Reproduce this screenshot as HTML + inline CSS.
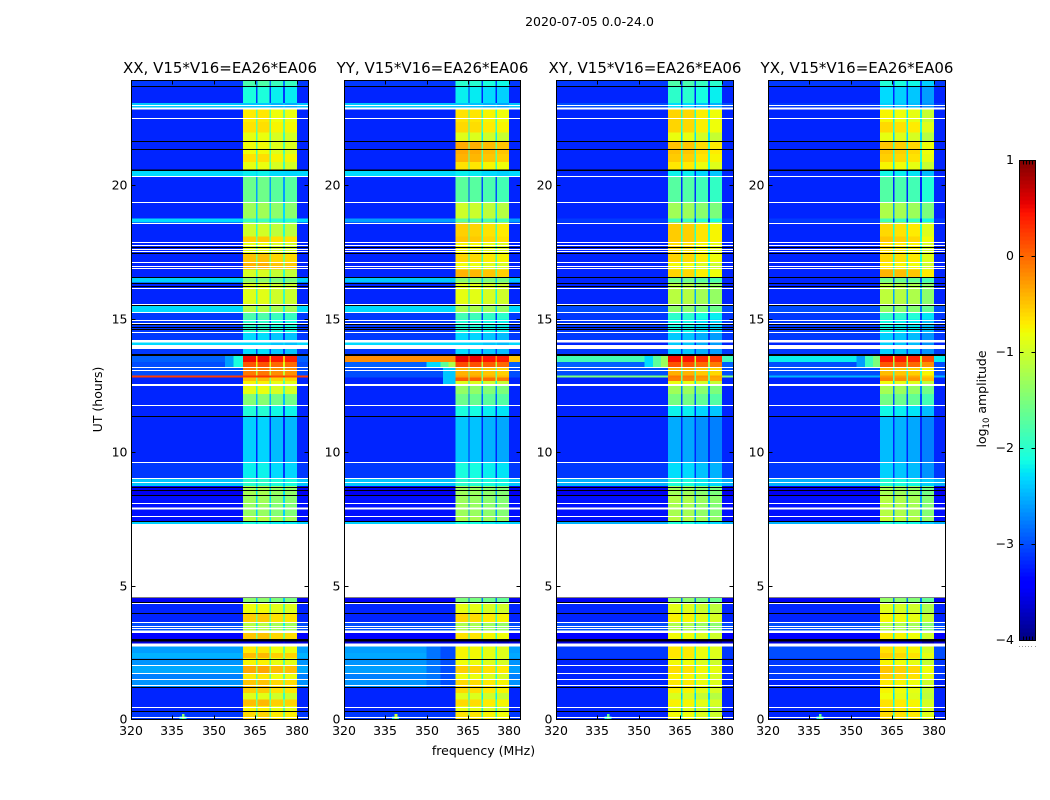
<!DOCTYPE html>
<html>
<head>
<meta charset="utf-8">
<title>2020-07-05 0.0-24.0</title>
<style>
html,body{margin:0;padding:0;background:#fff;}
svg{display:block;}
text{font-family:"DejaVu Sans","Liberation Sans",sans-serif;fill:#000;}
</style>
</head>
<body>
<svg id="figure" xmlns="http://www.w3.org/2000/svg" width="1050" height="800" viewBox="0 0 1050 800">
  <text x="589.5" y="26" font-size="12.5" text-anchor="middle">2020-07-05 0.0-24.0</text>
  <text x="483.5" y="755" font-size="12.5" text-anchor="middle">frequency (MHz)</text>
  <text x="102" y="399.5" font-size="12.5" text-anchor="middle" transform="rotate(-90 102 399.5)">UT (hours)</text>
  <text x="986" y="399" font-size="12.5" text-anchor="middle" transform="rotate(-90 986 399)">log<tspan font-size="8.5" dy="3">10</tspan><tspan dy="-3"> amplitude</tspan></text>
</svg>
<script>
// ---------- data (hours, MHz, log10 amplitude) ----------
const panelNames = ['XX', 'YY', 'XY', 'YX'];
const panelTitles = ['XX, V15*V16=EA26*EA06', 'YY, V15*V16=EA26*EA06', 'XY, V15*V16=EA26*EA06', 'YX, V15*V16=EA26*EA06'];
const xTickLabels = [320, 335, 350, 365, 380];
const yTickLabels = [0, 5, 10, 15, 20];
const colorbarTicks = [1, 0, -1, -2, -3, -4];

const freqEdges = [320, 360.5, 365.2, 365.7, 370, 370.6, 375, 375.7, 380, 384];
const freqKinds = ['bg', 0, 'gap', 1, 'gap', 2, 'gap', 3, 'bg'];

const timeEdges = [0, .30, .50, .75, 1.0, 1.21, 1.5, 1.72, 2.04, 2.3, 2.5, 2.75, 3.02, 3.24, 3.63, 3.97, 4.35, 4.57, 7.32, 7.41,
  7.62, 8.1, 8.41, 8.75, 9.02, 9.64, 11.37, 11.78, 12.2, 12.5, 12.68, 12.82, 12.9, 13.19, 13.4, 13.62, 13.89, 14.23, 14.5, 15.0, 15.27,
  15.5, 16.38, 16.55, 16.87, 17.11, 17.46, 17.9, 18.1, 18.62, 18.78, 19.37, 20.37, 20.55, 20.9, 21.2, 21.66, 22.0, 22.4, 22.9, 23.1,
  23.75, 23.95];

const bgXX = [-3.1,-3.2,-3.2,-3.2,-3.2,-2.65,-2.75,-2.55,-2.65,-2.5,-2.6,-3.6,-3.4,-3.0,-3.2,-3.2,-3.5,null,-2.35,-3.3,
  -3.3,-3.3,-3.5,-2.4,-3.1,-3.2,-3.2,-3.2,-3.2,-3.2,-3.2,.25,-3.0,-3.0,-2.9,-3.1,-2.3,-3.1,-3.1,-3.1,-2.3,
  -3.2,-2.35,-3.2,-3.2,-3.2,-3.2,-3.2,-3.2,-2.3,-3.2,-3.2,-2.3,-3.2,-3.2,-3.2,-3.2,-3.2,-3.2,-2.4,-3.2,-3.1];
const hotXX = [-.6,-.75,-.45,-.9,-.55,-.5,-.7,-.35,-.75,-.45,-.7,-3.6,-.5,-1.15,-.55,-.8,-1.4,null,-2.1,-1.15,
  -1.35,-1.3,-1.25,-2.0,-2.2,-2.35,-2.05,-1.45,-.85,-.75,-.45,.25,-.1,.1,.5,-2.3,-2.3,-2.3,-2.0,-1.8,-1.15,
  -.9,-1.4,-.95,-.4,-.5,-.85,-.55,-1.0,-1.9,-1.3,-1.6,-2.2,-.85,-.65,-.8,-.85,-.65,-.7,-2.4,-2.1,-1.8];

const bgYY = [-3.1,-3.2,-3.2,-3.2,-3.2,-2.65,-2.75,-2.6,-2.65,-2.55,-2.6,-3.6,-3.4,-3.0,-3.2,-3.2,-3.5,null,-2.35,-3.3,
  -3.3,-3.3,-3.5,-2.4,-3.1,-3.2,-3.2,-3.2,-3.2,-3.2,-3.2,-3.0,-3.0,-2.9,-.2,-3.1,-2.3,-3.1,-3.1,-3.1,-2.3,
  -3.2,-2.4,-3.2,-3.2,-3.2,-3.2,-3.2,-3.2,-2.6,-3.2,-3.2,-2.3,-3.2,-3.2,-3.2,-3.2,-3.2,-3.2,-2.4,-3.2,-3.1];
const hotYY = [-.65,-.85,-.6,-.9,-.6,-.6,-.8,-.55,-.8,-.75,-.75,-3.6,-.65,-1.2,-.6,-.85,-1.5,null,-2.1,-1.2,
  -1.3,-1.3,-1.3,-2.0,-2.1,-2.4,-2.1,-1.6,-1.35,-.9,.05,-.3,-.4,.15,.55,-2.3,-2.3,-2.3,-2.05,-1.85,-1.2,
  -.85,-1.4,-.4,-.8,-.6,-.75,-.5,-.55,-1.7,-1.0,-1.7,-2.2,-.65,-.4,-.35,-.9,-.6,-.65,-2.4,-2.2,-2.0];

const bgXY = [-3.2,-3.2,-3.2,-3.2,-3.2,-3.2,-3.2,-3.2,-3.2,-3.1,-3.1,-3.6,-3.4,-3.0,-3.2,-3.2,-3.5,null,-2.5,-3.3,
  -3.3,-3.3,-3.5,-2.5,-3.1,-3.2,-3.2,-3.2,-3.2,-3.2,-3.2,-1.5,-3.0,-2.9,-1.85,-3.1,-3.2,-3.1,-3.1,-3.1,-3.0,
  -3.2,-3.2,-3.2,-3.2,-3.2,-3.2,-3.2,-3.2,-3.1,-3.2,-3.2,-3.2,-3.2,-3.2,-3.2,-3.2,-3.2,-3.2,-3.0,-3.2,-3.1];
const hotXY = [-.8,-.9,-.75,-.95,-.75,-.7,-.75,-.65,-.8,-.7,-.7,-3.6,-.8,-1.2,-.75,-.9,-1.4,null,-2.1,-1.15,
  -1.25,-1.2,-1.3,-2.1,-2.3,-2.55,-2.2,-1.55,-1.3,-.85,-.15,-.1,-.4,.1,.45,-2.4,-2.4,-2.4,-2.15,-2.0,-1.4,
  -1.15,-1.6,-.6,-.8,-.6,-.65,-.55,-.55,-1.9,-1.3,-1.75,-2.2,-.7,-.55,-.5,-.85,-.6,-.6,-2.3,-2.0,-1.8];

const bgYX = [-3.2,-3.2,-3.2,-3.2,-3.2,-3.2,-3.1,-3.1,-3.1,-3.0,-3.0,-3.6,-3.4,-3.0,-3.2,-3.2,-3.5,null,-2.5,-3.3,
  -3.3,-3.3,-3.5,-2.5,-3.1,-3.2,-3.2,-3.2,-3.2,-3.2,-3.2,-2.5,-3.0,-3.0,-2.2,-3.1,-3.2,-3.1,-3.1,-3.1,-3.0,
  -3.2,-3.2,-3.2,-3.2,-3.2,-3.2,-3.2,-3.2,-3.1,-3.2,-3.2,-3.2,-3.2,-3.2,-3.2,-3.2,-3.2,-3.2,-3.1,-3.2,-3.1];
const hotYX = [-.65,-.7,-.7,-.85,-.8,-.75,-.6,-.55,-.8,-.6,-.7,-3.6,-.75,-1.2,-.8,-.95,-1.4,null,-2.1,-1.1,
  -1.2,-1.2,-1.3,-2.1,-2.4,-2.5,-2.2,-1.6,-1.3,-.85,-.2,-.3,-.5,.05,.4,-2.4,-2.4,-2.4,-2.2,-2.0,-1.4,
  -1.15,-1.6,-.45,-.75,-.65,-.7,-.55,-.65,-1.9,-1.25,-1.8,-2.2,-.8,-.6,-.55,-.9,-.65,-.8,-2.4,-2.35,-2.1];

const bgSeries = [bgXX, bgYY, bgXY, bgYX];
const hotSeries = [hotXX, hotYY, hotXY, hotYX];
const subbandOffsetXX = [0, .02, -.1, -.12];
const subbandOffsetYY = [0, -.02, -.1, -.15];
const subbandOffsetXY = [.02, 0, -.12, -.2];
const subbandOffsetYX = [.05, 0, -.05, -.25];
const subbandOffsets = [subbandOffsetXX, subbandOffsetYY, subbandOffsetXY, subbandOffsetYX];
const gapDrops = [1.0, 1.3, 1.4, 1.4];

// extra features: [tStart, tEnd, fStart, fEnd, value]
const featuresXX = [[13.19,13.62,354,357,-2.6],[13.19,13.62,357,360.5,-2.1],[0,.12,337.5,340,-2.2],[0,.2,338.4,339.4,-1.4]];
const featuresYY = [[13.19,13.4,350,355,-2.3],[13.19,13.4,355,358,-1.7],[13.19,13.4,358,360.5,-1.2],[12.5,13.19,356,360.5,-2.4],[13.4,13.62,380,384,-.5],[1.21,2.75,350,355,-2.8],[1.21,2.75,355,360.5,-3.0],[0,.12,337.5,340,-2.2],[0,.2,338.4,339.4,-1.0]];
const featuresXY = [[13.19,13.62,352,355,-2.3],[13.19,13.62,355,358,-1.7],[13.19,13.62,358,360.5,-1.3],[0,.12,337.5,340,-2.2],[0,.2,338.4,339.4,-1.6]];
const featuresYX = [[13.19,13.62,352,355,-2.6],[13.19,13.62,355,358,-1.9],[13.19,13.62,358,360.5,-1.5],[0,.12,337.5,340,-2.2],[0,.2,338.4,339.4,-1.6]];
const featureSeries = [featuresXX, featuresYY, featuresXY, featuresYX];

const flagLines = [.064,.44,1.265,1.49,1.716,2.04,3.406,3.5,3.63,4.345,7.62,8.1,8.89,9.02,9.64,11.78,12.5,12.55,13.07,13.19,14.49,14.86,14.97,15.27,15.57,16.14,16.89,16.98,17.11,17.55,17.61,17.76,17.86,18.59,19.37,20.34,22.53,23.03];
const flagBandStarts = [2.73, 3.24, 4.57, 7.87, 13.89, 14.13, 22.87];
const flagBandEnds = [2.84, 3.34, 7.32, 7.94, 14.04, 14.23, 22.94];
const darkLines = [.29,1.21,2.25,3.97,4.38,4.56,7.41,8.41,8.57,8.70,11.37,13.63,13.67,14.6,14.71,14.79,15.51,16.23,16.35,16.55,17.46,17.70,20.59,21.36,21.66,23.74];
const darkBandStarts = [2.93, 20.55];
const darkBandEnds = [3.02, 20.62];

// ---------- axes ----------
const svg = document.getElementById('figure');
const NS = 'http://www.w3.org/2000/svg';
const panelLeft = [131.5, 344.5, 556.5, 768.5];
const panelWidth = [177, 176, 177, 177];
const plotTop = 80.5, plotBottom = 719.5;
const fMin = 320, fMax = 384, tMax = 23.95, vMin = -4, vMax = 1;
const xAxis = (p, f) => panelLeft[p] - .5 + (f - fMin) / (fMax - fMin) * panelWidth[p];
const yAxis = t => plotBottom - t / tMax * (plotBottom - plotTop);
const cbLeft = 1019.5, cbRight = 1035.5, cbTop = 160.5, cbBottom = 640.5;
const cbAxis = v => cbBottom - (v - vMin) / (vMax - vMin) * (cbBottom - cbTop);

function lerp(pts, x) {
  for (let i = 1; i < pts.length; i++) {
    if (x <= pts[i][0]) {
      const a = pts[i - 1], b = pts[i];
      return a[1] + (b[1] - a[1]) * (x - a[0]) / (b[0] - a[0]);
    }
  }
  return pts[pts.length - 1][1];
}
const jetR = [[0,0],[.35,0],[.66,1],[.89,1],[1,.5]];
const jetG = [[0,0],[.125,0],[.375,1],[.64,1],[.91,0],[1,0]];
const jetB = [[0,.5],[.11,1],[.34,1],[.65,0],[1,0]];
function colorOf(v) {
  const s = Math.max(0, Math.min(1, (v - vMin) / (vMax - vMin)));
  return 'rgb(' + Math.round(255 * lerp(jetR, s)) + ',' + Math.round(255 * lerp(jetG, s)) + ',' + Math.round(255 * lerp(jetB, s)) + ')';
}
function shape(parent, tag, attrs) {
  const e = document.createElementNS(NS, tag);
  for (const k in attrs) e.setAttribute(k, attrs[k]);
  parent.appendChild(e);
  return e;
}
function box(parent, x0, x1, y0, y1, fill) {
  return shape(parent, 'rect', {x: x0, y: y0, width: x1 - x0, height: y1 - y0, fill: fill, 'shape-rendering': 'crispEdges'});
}
function line(parent, x1, y1, x2, y2) {
  return shape(parent, 'line', {x1: x1, y1: y1, x2: x2, y2: y2, stroke: '#000', 'stroke-width': 1, 'shape-rendering': 'crispEdges'});
}
function label(parent, x, y, str, anchor, size) {
  const e = shape(parent, 'text', {x: x, y: y, 'text-anchor': anchor, 'font-size': size});
  e.textContent = str;
  return e;
}

// ---------- panels ----------
panelNames.forEach((name, p) => {
  const panelRight = panelLeft[p] + panelWidth[p];
  const g = shape(svg, 'g', {});
  
  

  const title = label(g, panelLeft[p] + panelWidth[p] / 2, 73, panelTitles[p], 'middle', 15);
  
  

  // heatmap cells
  for (let r = 0; r < timeEdges.length - 1; r++) {
    const bg = bgSeries[p][r], hot = hotSeries[p][r];
    if (bg === null) continue;
    for (let c = 0; c < freqKinds.length; c++) {
      const kind = freqKinds[c];
      let v = bg;
      if (kind === 'gap') v = Math.max(bg, hot - gapDrops[p]);
      else if (kind !== 'bg') v = hot + subbandOffsets[p][kind];
      const cell = box(g, xAxis(p, freqEdges[c]), xAxis(p, freqEdges[c + 1]), yAxis(timeEdges[r + 1]), yAxis(timeEdges[r]), colorOf(v));
      
      
    }
  }
  // local features
  featureSeries[p].forEach(f => {
    const cell = box(g, xAxis(p, f[2]), xAxis(p, f[3]), yAxis(f[1]), yAxis(f[0]), colorOf(f[4]));
    
    
  });
  // dark rows
  darkLines.forEach(t => {
    const y = Math.floor(yAxis(t));
    const d = box(g, panelLeft[p], panelRight, y, y + 1, '#000');
    
    
  });
  darkBandStarts.forEach((t, i) => {
    const d = box(g, panelLeft[p], panelRight, yAxis(darkBandEnds[i]), yAxis(t), '#000');
    
    
  });
  // flagged (blank) rows
  flagLines.forEach(t => {
    const y = Math.floor(yAxis(t));
    const d = box(g, panelLeft[p], panelRight, y, y + 1, '#fff');
    
    
  });
  flagBandStarts.forEach((t, i) => {
    const d = box(g, panelLeft[p], panelRight, yAxis(flagBandEnds[i]), yAxis(t), '#fff');
    
    
  });

  // frame
  const frame = shape(g, 'rect', {x: panelLeft[p], y: plotTop, width: panelWidth[p], height: plotBottom - plotTop, fill: 'none', stroke: '#000', 'stroke-width': 1, 'shape-rendering': 'crispEdges'});
  
  

  // ticks
  xTickLabels.forEach(f => {
    const x = Math.round(xAxis(p, f)) + .5;
    const t1 = line(g, x, plotBottom, x, plotBottom - 4);
    
    
    const t2 = line(g, x, plotTop, x, plotTop + 4);
    
    
    const l = label(g, x - .5, 735, String(f), 'middle', 12.5);
    
    
  });
  yTickLabels.forEach(t => {
    const y = Math.round(yAxis(t) - .5) + .5;
    const t1 = line(g, panelLeft[p], y, panelLeft[p] + 4, y);
    
    
    const t2 = line(g, panelRight, y, panelRight - 4, y);
    
    
    const l = label(g, panelLeft[p] - 4, y + 4, String(t), 'end', 12.5);
    
    
  });
});

// ---------- colorbar ----------
const cb = shape(svg, 'g', {});


const cbSteps = 120;
for (let i = 0; i < cbSteps; i++) {
  const v0 = vMin + (vMax - vMin) * i / cbSteps;
  const v1 = vMin + (vMax - vMin) * (i + 1) / cbSteps;
  const s = box(cb, cbLeft, cbRight, cbAxis(v1), cbAxis(v0), colorOf((v0 + v1) / 2));
  
  
}
const cbFrame = shape(cb, 'rect', {x: cbLeft, y: cbTop, width: cbRight - cbLeft, height: cbBottom - cbTop, fill: 'none', stroke: '#000', 'stroke-width': 1, 'shape-rendering': 'crispEdges'});


colorbarTicks.forEach(v => {
  const y = Math.round(cbAxis(v) - .5) + .5;
  const t1 = line(cb, cbLeft, y, cbLeft + 4, y);
  
  
  const t2 = line(cb, cbRight, y, cbRight - 4, y);
  
  
  const l = label(cb, 1014, y + 3.5, String(v).replace('-', '\u2212'), 'end', 12.5);
  
  
});
const cbEdgeTicks = [.2, .4, .6, .8];
cbEdgeTicks.forEach(f => {
  const x = Math.round(cbLeft + f * (cbRight - cbLeft)) + .5;
  const t1 = line(cb, x, cbTop, x, cbTop + 4);
  
  
  const t2 = line(cb, x, cbBottom, x, cbBottom - 4);
  
  
});
const cbEdgeDots = [0, .2, .4, .6, .8, 1];
cbEdgeDots.forEach(f => {
  const x = Math.round(cbLeft + f * (cbRight - cbLeft));
  const dot = box(cb, x - 1, x, 646, 647, '#999');
  
  
});
</script>
</body>
</html>
